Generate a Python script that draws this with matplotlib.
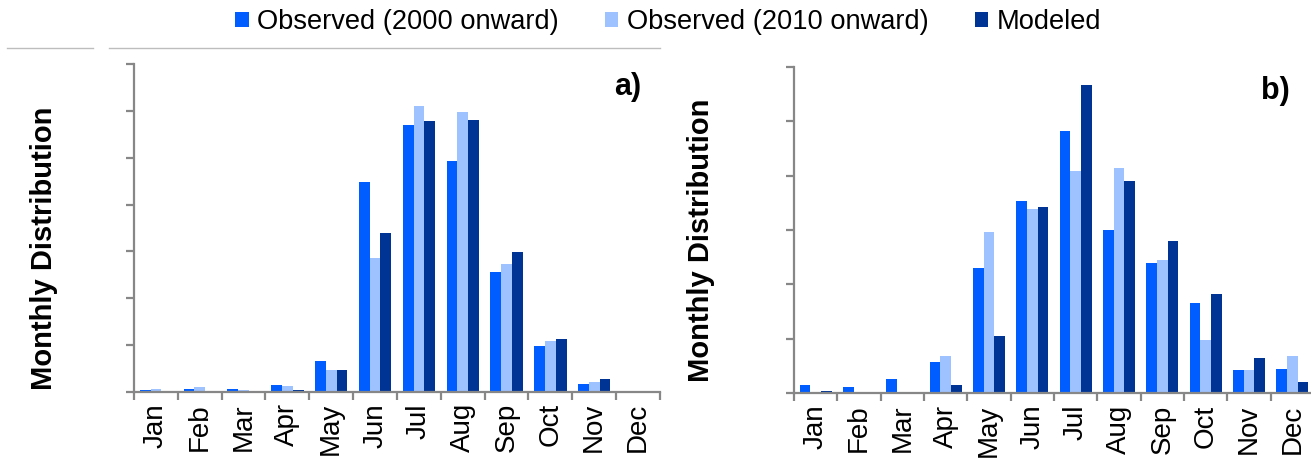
import numpy as np
import matplotlib
matplotlib.use('Agg')
import matplotlib.pyplot as plt
from matplotlib.patches import Patch
from matplotlib.lines import Line2D

plt.rcParams['font.family'] = ['Liberation Sans', 'DejaVu Sans']

# DATA
months = ['Jan', 'Feb', 'Mar', 'Apr', 'May', 'Jun', 'Jul', 'Aug', 'Sep', 'Oct', 'Nov', 'Dec']
series_names = ['Observed (2000 onward)', 'Observed (2010 onward)', 'Modeled']

# panel a
obs2000_a = [0.002, 0.003, 0.003, 0.008, 0.033, 0.224, 0.285, 0.246, 0.128, 0.049, 0.009, 0.000]
obs2010_a = [0.003, 0.005, 0.002, 0.006, 0.024, 0.143, 0.305, 0.299, 0.137, 0.054, 0.011, 0.0015]
model_a = [0.000, 0.000, 0.000, 0.002, 0.024, 0.170, 0.289, 0.290, 0.149, 0.057, 0.014, 0.000]

# panel b
obs2000_b = [0.008, 0.006, 0.013, 0.029, 0.115, 0.177, 0.241, 0.150, 0.120, 0.083, 0.021, 0.022]
obs2010_b = [0.0015, 0.000, 0.0015, 0.034, 0.148, 0.169, 0.204, 0.207, 0.122, 0.049, 0.021, 0.034]
model_b = [0.002, 0.000, 0.000, 0.008, 0.053, 0.171, 0.283, 0.195, 0.140, 0.091, 0.032, 0.010]

colors = ['#005DFF', '#9EC2FF', '#003494']
axis_gray = '#878787'

W, H = 1311, 465
fig = plt.figure(figsize=(W / 100, H / 100), dpi=100)


def px_axes(left, top, right, bottom):
    return fig.add_axes([left / W, 1 - bottom / H, (right - left) / W, (bottom - top) / H])


def draw_panel(ax, series, ymax, tag, tag_pos):
    x = np.arange(len(months))
    bw = 0.246
    for i, vals in enumerate(series):
        ax.bar(x + (i - 1) * bw, vals, width=bw, color=colors[i], linewidth=0)
    ax.set_xlim(-0.5, 11.5)
    ax.set_ylim(0, ymax)
    ax.set_yticks(np.arange(0, ymax + 0.001, 0.05))
    ax.set_yticklabels([])
    ax.set_xticks(x)
    ax.set_xticklabels(months, rotation=90, fontsize=20)
    ax.set_xticks(np.arange(-0.5, 12, 1), minor=True)
    ax.tick_params(axis='x', which='major', length=0, pad=8)
    ax.tick_params(axis='x', which='minor', length=5.5, width=1.6, color=axis_gray, direction='out')
    ax.tick_params(axis='y', length=5.5, width=1.6, color=axis_gray, direction='out')
    for s in ['top', 'right']:
        ax.spines[s].set_visible(False)
    for s in ['left', 'bottom']:
        ax.spines[s].set_color(axis_gray)
        ax.spines[s].set_linewidth(1.6)
    ax.text(tag_pos[0], tag_pos[1], tag, transform=ax.transAxes, ha='right', va='center',
            fontsize=22, fontweight='bold')


ax_a = px_axes(134, 64, 660, 392)
draw_panel(ax_a, [obs2000_a, obs2010_a, model_a], 0.35, 'a)', (0.965, 0.93))

ax_b = px_axes(794, 66.7, 1314, 393.3)
draw_panel(ax_b, [obs2000_b, obs2010_b, model_b], 0.30, 'b)', (0.953, 0.925))

fig.text(44 / W, 1 - 248 / H, 'Monthly Distribution', rotation=90, ha='center', va='center',
         fontsize=21, fontweight='bold')
fig.text(701 / W, 1 - 240 / H, 'Monthly Distribution', rotation=90, ha='center', va='center',
         fontsize=21, fontweight='bold')

# legend across the top
handles = [Patch(facecolor=c, edgecolor='none') for c in colors]
fig.legend(handles, series_names, loc='center', bbox_to_anchor=(668 / W, 1 - 22 / H),
           ncol=3, frameon=False, fontsize=19.6, handlelength=0.5, handleheight=0.5,
           handletextpad=0.3, columnspacing=1.7, borderpad=0)

# thin rules under the legend
for x0, x1 in [(7, 93), (109, 660)]:
    fig.add_artist(Line2D([x0 / W, x1 / W], [1 - 48 / H, 1 - 48 / H], color='#BDBDBD', lw=1))

fig.savefig('out.png', dpi=100)
